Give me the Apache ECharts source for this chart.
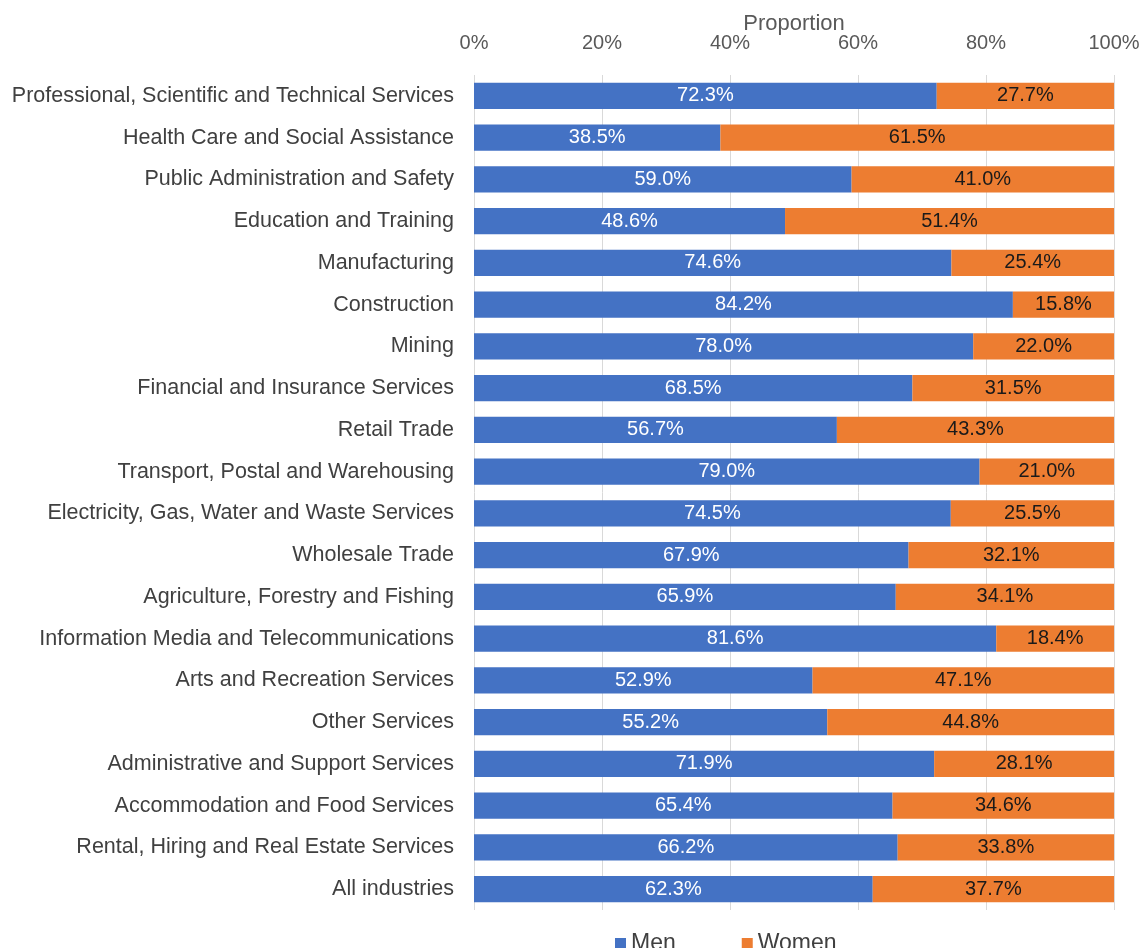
<!DOCTYPE html>
<html>
<head>
<meta charset="utf-8">
<script src="https://cdn.jsdelivr.net/npm/echarts@6/dist/echarts.min.js"></script>
<style>
  html, body { margin: 0; padding: 0; background: #ffffff; }
  #chart { width: 1141px; height: 948px; }
</style>
</head>
<body>
<div id="chart"></div>
<script>
// Industries, listed top to bottom
const industries = [
  "Professional, Scientific and Technical Services",
  "Health Care and Social Assistance",
  "Public Administration and Safety",
  "Education and Training",
  "Manufacturing",
  "Construction",
  "Mining",
  "Financial and Insurance Services",
  "Retail Trade",
  "Transport, Postal and Warehousing",
  "Electricity, Gas, Water and Waste Services",
  "Wholesale Trade",
  "Agriculture, Forestry and Fishing",
  "Information Media and Telecommunications",
  "Arts and Recreation Services",
  "Other Services",
  "Administrative and Support Services",
  "Accommodation and Food Services",
  "Rental, Hiring and Real Estate Services",
  "All industries"
];

// Share of employees (%) by sex
const men = [72.3, 38.5, 59.0, 48.6, 74.6, 84.2, 78.0, 68.5, 56.7, 79.0, 74.5, 67.9, 65.9, 81.6, 52.9, 55.2, 71.9, 65.4, 66.2, 62.3];
const women = [27.7, 61.5, 41.0, 51.4, 25.4, 15.8, 22.0, 31.5, 43.3, 21.0, 25.5, 32.1, 34.1, 18.4, 47.1, 44.8, 28.1, 34.6, 33.8, 37.7];

const seriesNames = ["Men", "Women"];
const FONT = "Liberation Sans";

const chart = echarts.init(document.getElementById("chart"));
chart.setOption({
  animation: false,
  textStyle: { fontFamily: FONT },
  grid: { left: 474, right: 27, top: 75, bottom: 38, containLabel: false, outerBoundsMode: "none" },
  legend: {
    data: seriesNames,
    top: 927,
    left: 610,
    itemWidth: 11,
    itemHeight: 11,
    itemGap: 66,
    icon: "rect",
    textStyle: { fontSize: 23, color: "#404040", fontFamily: FONT }
  },
  xAxis: {
    type: "value",
    position: "top",
    min: 0,
    max: 100,
    interval: 20,
    name: "Proportion",
    nameLocation: "middle",
    nameGap: 40,
    nameMoveOverlap: false,
    nameTextStyle: { fontSize: 22, color: "#595959", fontFamily: FONT },
    axisLine: { show: false },
    axisTick: { show: false },
    axisLabel: { formatter: "{value}%", fontSize: 20, color: "#595959", margin: 22 },
    splitLine: { show: true, lineStyle: { color: "#d9d9d9", width: 1 } }
  },
  yAxis: {
    type: "category",
    inverse: true,
    data: industries,
    axisLine: { show: false },
    axisTick: { show: false },
    axisLabel: { fontSize: 21.5, color: "#404040", margin: 20 }
  },
  series: [
    {
      name: seriesNames[0],
      type: "bar",
      stack: "total",
      data: men,
      barCategoryGap: "37%",
      itemStyle: { color: "#4472c4" },
      label: {
        show: true,
        position: "inside",
        color: "#ffffff",
        fontSize: 20,
        formatter: p => p.value.toFixed(1) + "%"
      }
    },
    {
      name: seriesNames[1],
      type: "bar",
      stack: "total",
      data: women,
      barCategoryGap: "37%",
      itemStyle: { color: "#ed7d31" },
      label: {
        show: true,
        position: "inside",
        color: "#1a1a1a",
        fontSize: 20,
        formatter: p => p.value.toFixed(1) + "%"
      }
    }
  ]
});
</script>
</body>
</html>
